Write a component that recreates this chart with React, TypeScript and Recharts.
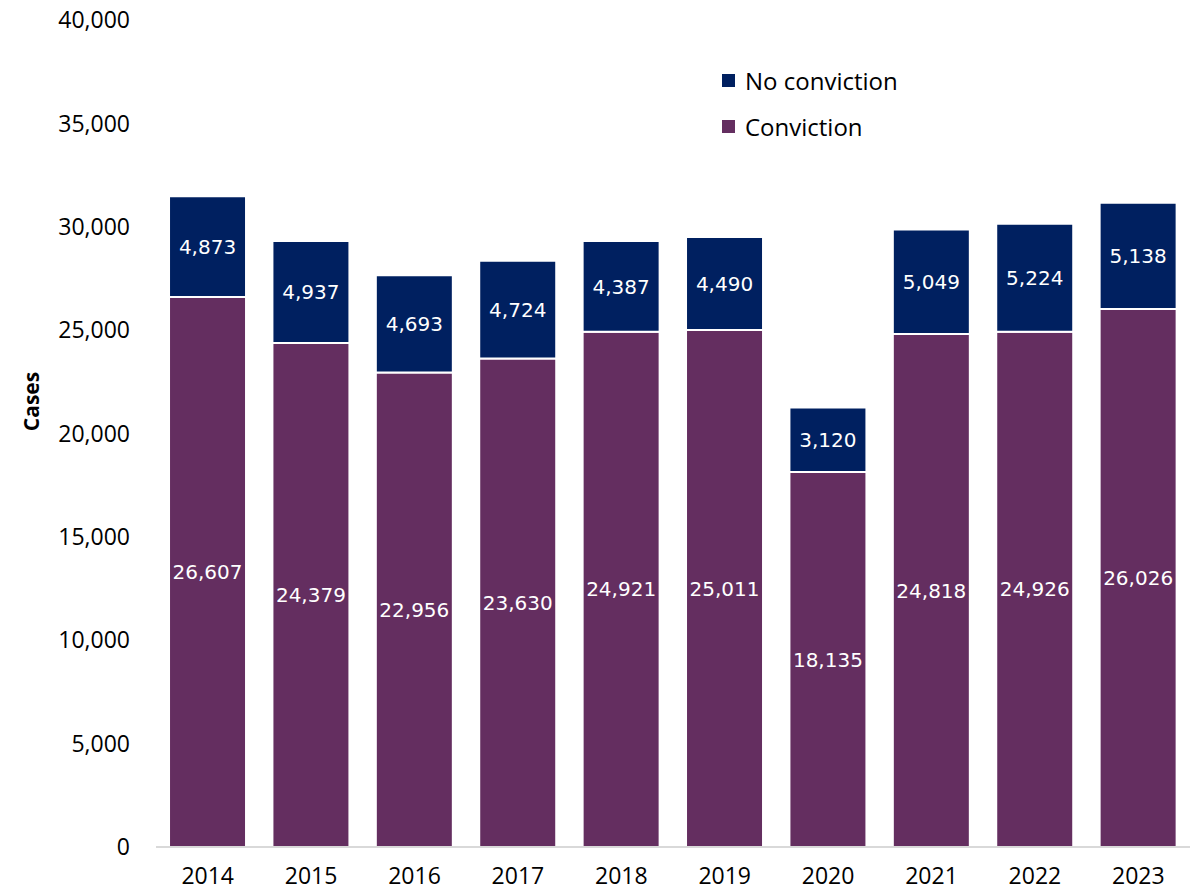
import React from "react";
import { BarChart, Bar, XAxis, YAxis, LabelList, Legend } from "recharts";

const years = ["2014", "2015", "2016", "2017", "2018", "2019", "2020", "2021", "2022", "2023"];
const conviction = [26607, 24379, 22956, 23630, 24921, 25011, 18135, 24818, 24926, 26026];
const noConviction = [4873, 4937, 4693, 4724, 4387, 4490, 3120, 5049, 5224, 5138];
const yTicks = [0, 5000, 10000, 15000, 20000, 25000, 30000, 35000, 40000];

const NAVY = "#002060";
const PURPLE = "#642E60";
const TICK_FONT = "'Open Sans', sans-serif";
const LABEL_FONT = "'DejaVu Sans', sans-serif";

const legendItems = [
  { name: "No conviction", color: NAVY },
  { name: "Conviction", color: PURPLE },
];

const data = years.map((y, i) => ({
  year: y,
  conviction: conviction[i],
  noConviction: noConviction[i],
}));

const fmt = (v: number) => v.toLocaleString("en-US");

const renderLegend = () => (
  <div style={{ fontFamily: TICK_FONT, fontSize: 24, color: "#000" }}>
    {legendItems.map((it) => (
      <div key={it.name} style={{ display: "flex", alignItems: "center", height: 46 }}>
        <span
          style={{
            display: "inline-block",
            width: 13,
            height: 13,
            background: it.color,
            marginRight: 10,
          }}
        />
        <span>{it.name}</span>
      </div>
    ))}
  </div>
);

export default function App() {
  return (
    <div style={{ position: "absolute", left: 0, top: 0, background: "#fff" }}>
      <BarChart
        width={1190}
        height={893}
        data={data}
        margin={{ top: 20, right: 0, bottom: 0, left: 0 }}
        barCategoryGap="12.6%"
      >
        <XAxis
          dataKey="year"
          height={46}
          tickLine={false}
          axisLine={{ stroke: "#d9d9d9", strokeWidth: 2 }}
          tickSize={0}
          tickMargin={21}
          tick={{ fill: "#000", fontSize: 23, fontFamily: TICK_FONT }}
        />
        <YAxis
          width={156}
          domain={[0, 40000]}
          ticks={yTicks}
          interval={0}
          tickFormatter={fmt}
          axisLine={false}
          tickLine={false}
          tickSize={0}
          tickMargin={26}
          tick={{ fill: "#000", fontSize: 23, fontFamily: TICK_FONT }}
          label={{
            value: "Cases",
            angle: -90,
            position: "insideLeft",
            dx: 27,
            dy: -32,
            style: { fontFamily: TICK_FONT, fontSize: 21, fontWeight: 700, fill: "#000", textAnchor: "middle" },
          }}
        />
        <Legend
          layout="vertical"
          align="center"
          verticalAlign="middle"
          wrapperStyle={{ top: 57, left: 722, width: "auto" }}
          content={renderLegend}
        />
        <Bar dataKey="conviction" stackId="a" fill={PURPLE} stroke="#fff" strokeWidth={2} isAnimationActive={false}>
          <LabelList
            dataKey="conviction"
            position="center"
            formatter={(v: any) => fmt(Number(v))}
            style={{ fill: "#fff", fontSize: 20, fontFamily: LABEL_FONT }}
          />
        </Bar>
        <Bar dataKey="noConviction" stackId="a" fill={NAVY} stroke="#fff" strokeWidth={2} isAnimationActive={false}>
          <LabelList
            dataKey="noConviction"
            position="center"
            formatter={(v: any) => fmt(Number(v))}
            style={{ fill: "#fff", fontSize: 20, fontFamily: LABEL_FONT }}
          />
        </Bar>
      </BarChart>
    </div>
  );
}
